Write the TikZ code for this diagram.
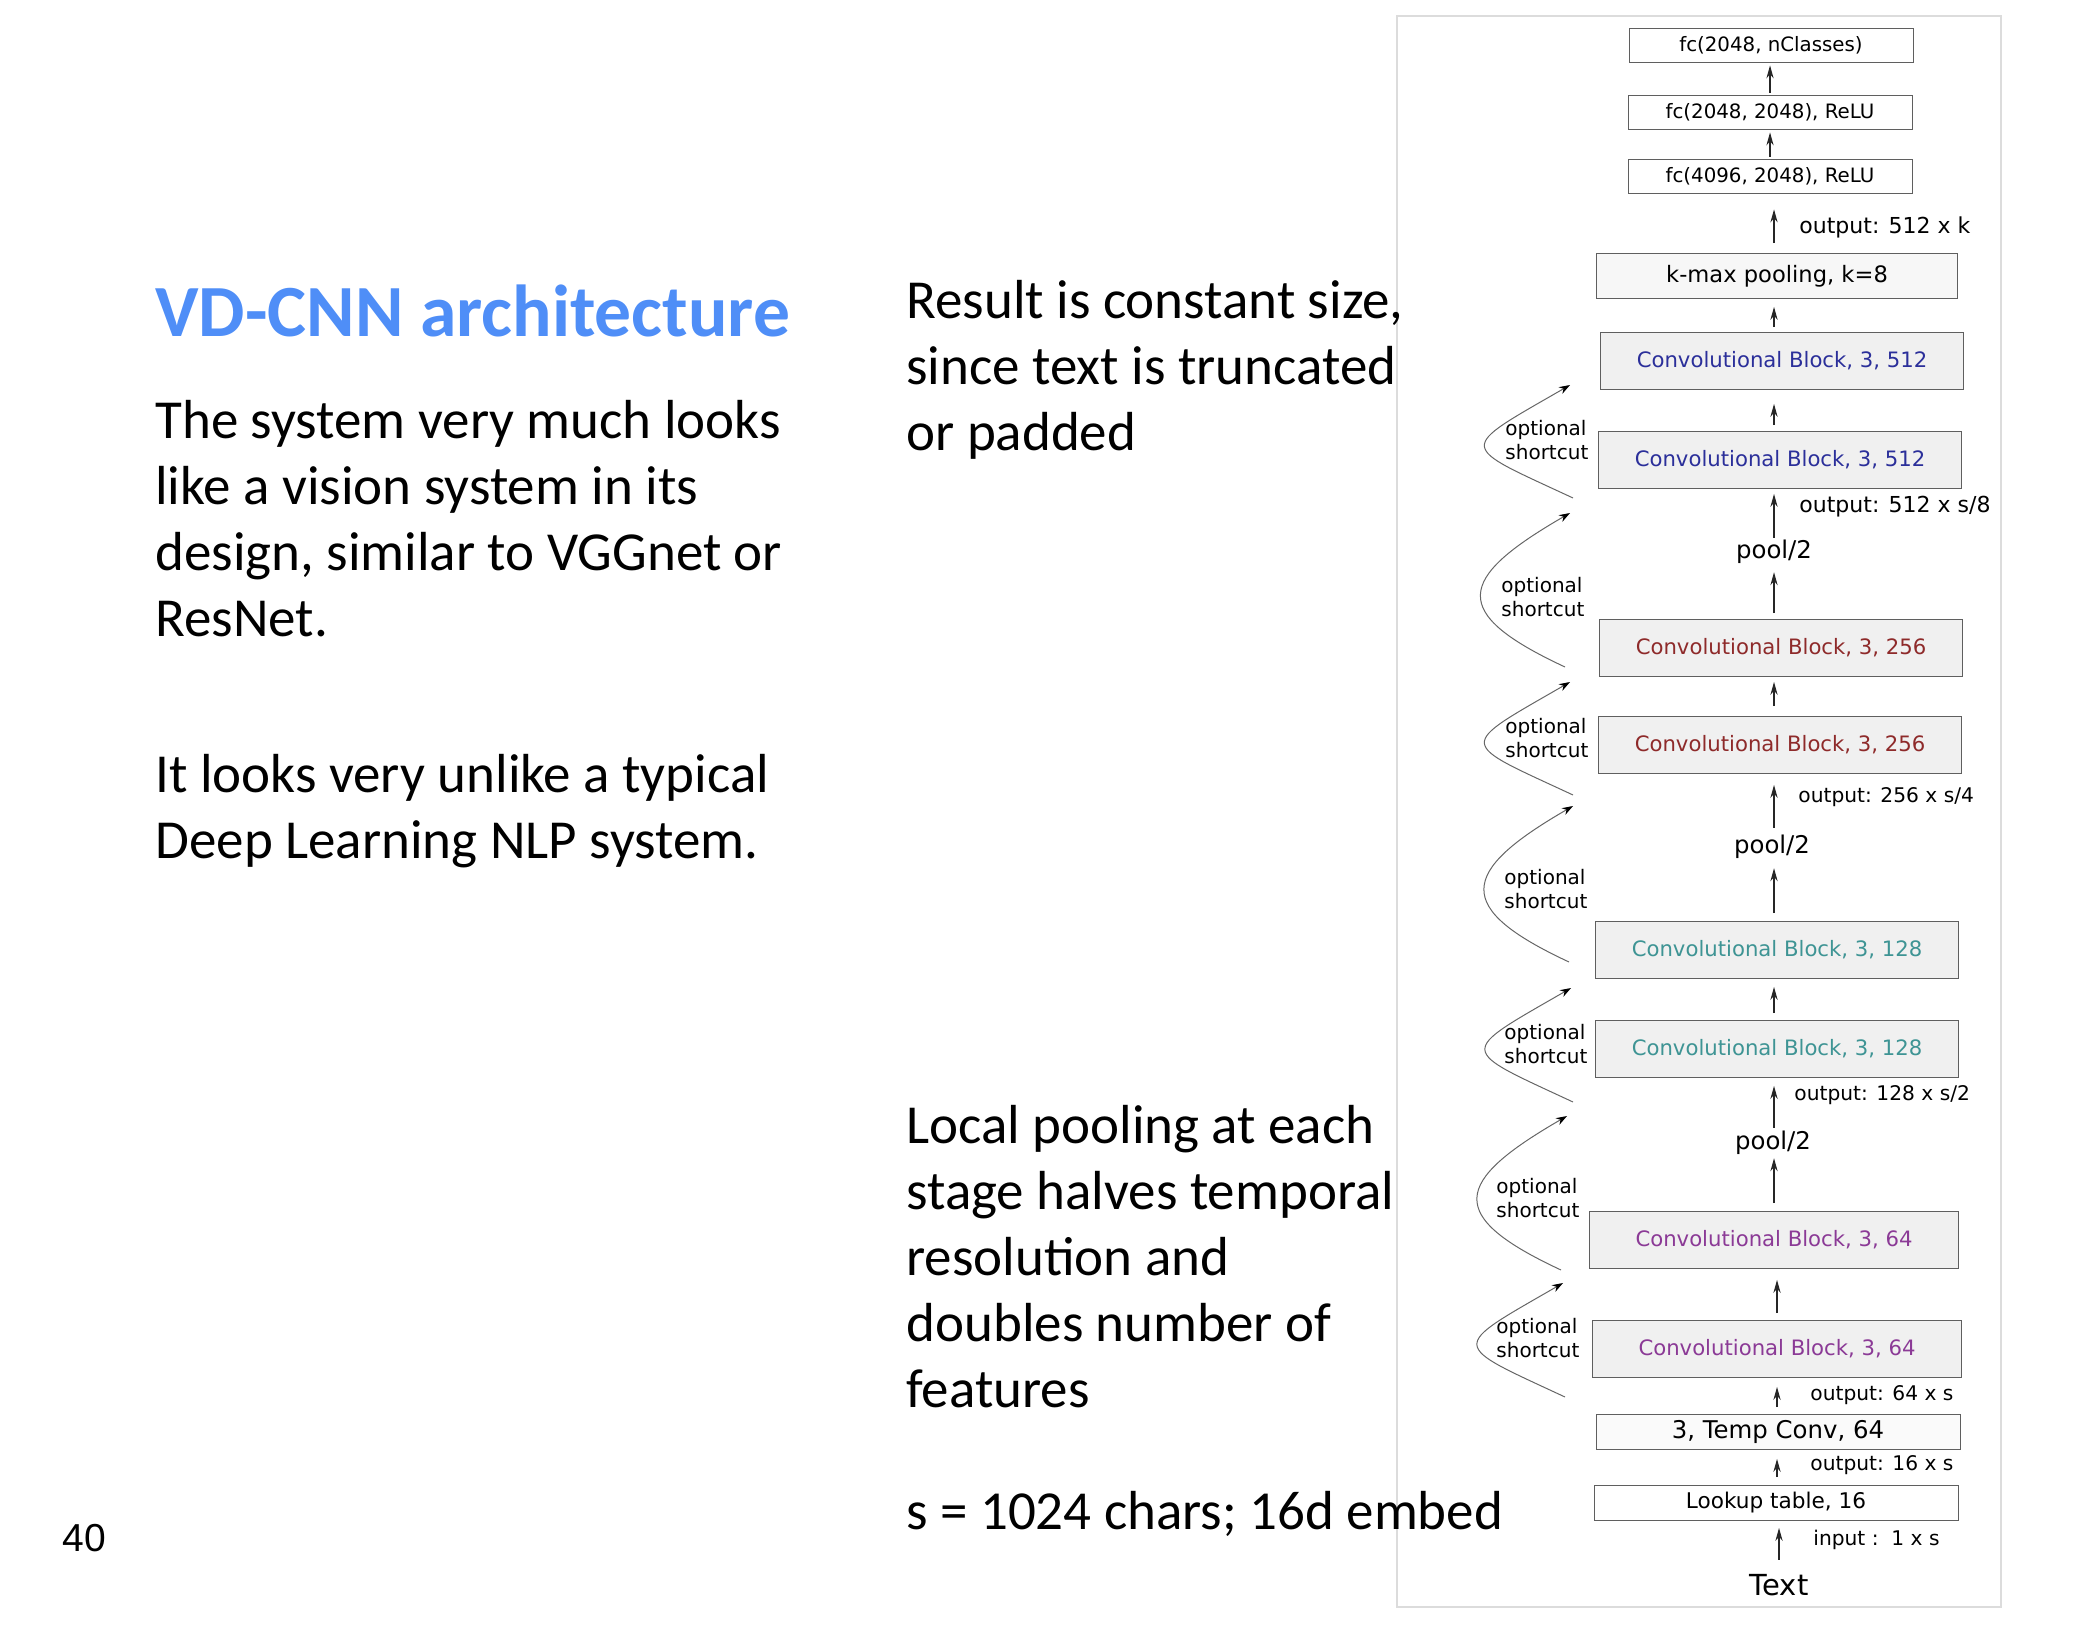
\documentclass[tikz,border=0pt]{standalone}
\usepackage{fontspec}
\setmainfont{Carlito}
\newfontfamily\dejavu{DejaVu Sans}
\newfontfamily\pagefont{Liberation Sans}
\usepackage{xcolor}
\usepackage{tikz}
\usetikzlibrary{arrows.meta,positioning}

\definecolor{titleblue}{RGB}{79,142,247}
\definecolor{c512}{RGB}{43,47,154}
\definecolor{c256}{RGB}{142,42,42}
\definecolor{c128}{RGB}{62,148,148}
\definecolor{c64}{RGB}{139,58,150}
\definecolor{boxline}{RGB}{95,95,95}
\definecolor{convfill}{RGB}{240,240,240}
\definecolor{framegray}{RGB}{220,220,220}

\begin{document}
\begin{tikzpicture}[
  x=0.5pt, y=-0.5pt,
  slide/.style={anchor=base west, inner sep=0pt, align=flush left, text width=340pt,
    font=\fontsize{27.5pt}{33pt}\selectfont},
  heading/.style={anchor=base west, inner sep=0pt, text=titleblue,
    font=\fontsize{36.8pt}{40pt}\selectfont\bfseries},
  fcbox/.style={draw=boxline, fill=white, minimum width=142pt, minimum height=17pt,
    inner sep=0pt, font=\dejavu\fontsize{9.9pt}{12pt}\selectfont},
  poolbox/.style={draw=boxline, fill=black!3, minimum width=180.5pt, minimum height=22.5pt,
    inner sep=0pt, font=\dejavu\fontsize{11.3pt}{13pt}\selectfont},
  convbox/.style={draw=boxline, fill=convfill, minimum width=181.5pt, minimum height=28.5pt,
    inner sep=0pt, font=\dejavu\fontsize{10.6pt}{12pt}\selectfont},
  inbox/.style={draw=boxline, fill=white, minimum width=182pt, minimum height=17.5pt,
    inner sep=0pt, font=\dejavu\fontsize{10.8pt}{12pt}\selectfont},
  dim/.style={anchor=west, inner sep=0pt, font=\dejavu\fontsize{10.1pt}{12pt}\selectfont},
  pooltext/.style={inner sep=0pt, font=\dejavu\fontsize{12.2pt}{14pt}\selectfont},
  skiptext/.style={anchor=west, inner sep=0pt, align=left,
    font=\dejavu\fontsize{10pt}{12pt}\selectfont},
  flow/.style={-{Stealth[length=6.5pt, width=3.6pt]}, line width=0.6pt, draw=black!85,
    shorten <=3pt, shorten >=4pt},
  shortcut/.style={-{Stealth[length=5.5pt, width=3.8pt, color=black]}, line width=0.5pt,
    draw=black!60, out=155, in=210, out distance=64pt, in distance=66pt}
]
\useasboundingbox (0,0) rectangle (2080,1632);

% frame of the network figure
\draw[framegray, line width=0.8pt] (1397,16) rectangle (2001,1607);
\coordinate (spine) at (1774,0);

% classifier on top
\node[fcbox] (fc1) at (1771,45) {fc(2048, nClasses)};
\node[fcbox] (fc2) at (1770,112) {fc(2048, 2048), ReLU};
\node[fcbox] (fc3) at (1770,176) {fc(4096, 2048), ReLU};
\node[poolbox] (kmax) at (1777,276) {k-max pooling, k=8};

% convolutional blocks
\node[convbox, text=c512] (cb512a) at (1782,361) {Convolutional Block, 3, 512};
\node[convbox, text=c512] (cb512b) at (1780,460) {Convolutional Block, 3, 512};
\node[pooltext] (pool1) at (1774,552) {pool/2};
\node[convbox, text=c256] (cb256a) at (1781,648) {Convolutional Block, 3, 256};
\node[convbox, text=c256] (cb256b) at (1780,745) {Convolutional Block, 3, 256};
\node[pooltext] (pool2) at (1772,847) {pool/2};
\node[convbox, text=c128] (cb128a) at (1777,950) {Convolutional Block, 3, 128};
\node[convbox, text=c128] (cb128b) at (1777,1049) {Convolutional Block, 3, 128};
\node[pooltext] (pool3) at (1773,1143) {pool/2};
\node[convbox, text=c64, minimum width=184.5pt] (cb64a) at (1774,1240) {Convolutional Block, 3, 64};
\node[convbox, text=c64, minimum width=184.5pt] (cb64b) at (1777,1349) {Convolutional Block, 3, 64};

% input side
\node[inbox, fill=black!2, font=\dejavu\fontsize{12.2pt}{13pt}\selectfont] (temp) at (1778,1432) {3, Temp Conv, 64};
\node[inbox] (lookup) at (1776,1503) {Lookup table, 16};
\node[inner sep=0pt, font=\dejavu\fontsize{14.5pt}{16pt}\selectfont] (txt) at (1779,1585) {Text};

% sizes next to the arrows
\node[dim, font=\dejavu\fontsize{11pt}{13pt}\selectfont] (out1) at (1799,227) {output: 512 x k};
\node[dim, font=\dejavu\fontsize{11pt}{13pt}\selectfont] (out2) at (1799,507) {output: 512 x s/8};
\node[dim] (out3) at (1798,797) {output: 256 x s/4};
\node[dim] (out4) at (1794,1095) {output: 128 x s/2};
\node[dim] (out5) at (1810,1395) {output: 64 x s};
\node[dim] (out6) at (1810,1465) {output: 16 x s};
\node[dim] (inp) at (1813,1540) {input :\ \ 1 x s};

\draw[flow, shorten <=1pt, shorten >=1.5pt] (fc2.north) -- (fc2.north |- fc1.south);
\draw[flow, shorten <=1pt, shorten >=1.5pt] (fc3.north) -- (fc3.north |- fc2.south);
\draw[flow, shorten <=5pt, shorten >=8pt] (spine |- kmax.north) -- (spine |- fc3.south);
\draw[flow, shorten <=2.5pt, shorten >=4pt] (spine |- cb512a.north) -- (spine |- kmax.south);
\draw[flow, shorten <=3pt, shorten >=7pt] (spine |- cb512b.north) -- (spine |- cb512a.south);
\draw[flow] (spine |- cb256a.north) -- (spine |- pool1.south);
\draw[flow, shorten <=1pt, shorten >=2.5pt] (spine |- pool1.north) -- (spine |- cb512b.south);
\draw[flow, shorten <=5pt, shorten >=2.5pt] (spine |- cb256b.north) -- (spine |- cb256a.south);
\draw[flow, shorten <=4pt, shorten >=4.5pt] (spine |- cb128a.north) -- (spine |- pool2.south);
\draw[flow, shorten <=3.5pt, shorten >=5.5pt] (spine |- pool2.north) -- (spine |- cb256b.south);
\draw[flow, shorten <=3.5pt] (spine |- cb128b.north) -- (spine |- cb128a.south);
\draw[flow, shorten <=4pt, shorten >=1.5pt] (spine |- cb64a.north) -- (spine |- pool3.south);
\draw[flow, shorten <=1.5pt] (spine |- pool3.north) -- (spine |- cb128b.south);
\draw[flow, shorten <=3.5pt, shorten >=5.5pt] (cb64b.north) -- (cb64b.north |- cb64a.south);
\draw[flow, shorten <=3.5pt, shorten >=4.5pt] (cb64b.north |- temp.north) -- (cb64b.north |- cb64b.south);
\draw[flow, shorten <=4pt, shorten >=4.5pt] (cb64b.north |- lookup.north) -- (cb64b.north |- temp.south);
\draw[flow, shorten <=7pt, shorten >=3.5pt] (txt.north) -- (txt.north |- lookup.south);

% optional shortcuts
\coordinate (sk1a) at (1573,498);  \coordinate (sk1b) at (1570,385);
\coordinate (sk2a) at (1565,667);  \coordinate (sk2b) at (1570,513);
\coordinate (sk3a) at (1573,795);  \coordinate (sk3b) at (1570,682);
\coordinate (sk4a) at (1569,962);  \coordinate (sk4b) at (1573,806);
\coordinate (sk5a) at (1573,1102); \coordinate (sk5b) at (1571,988);
\coordinate (sk6a) at (1561,1270); \coordinate (sk6b) at (1567,1116);
\coordinate (sk7a) at (1565,1397); \coordinate (sk7b) at (1563,1283);
\draw[shortcut] (sk1a) to (sk1b);
\draw[shortcut] (sk2a) to (sk2b);
\draw[shortcut] (sk3a) to (sk3b);
\draw[shortcut] (sk4a) to (sk4b);
\draw[shortcut] (sk5a) to (sk5b);
\draw[shortcut] (sk6a) to (sk6b);
\draw[shortcut] (sk7a) to (sk7b);
\node[skiptext] (opt1) at (1505,440) {optional\\shortcut};
\node[skiptext] (opt2) at (1501,597) {optional\\shortcut};
\node[skiptext] (opt3) at (1505,738) {optional\\shortcut};
\node[skiptext] (opt4) at (1504,889) {optional\\shortcut};
\node[skiptext] (opt5) at (1504,1044) {optional\\shortcut};
\node[skiptext] (opt6) at (1496,1198) {optional\\shortcut};
\node[skiptext] (opt7) at (1496,1338) {optional\\shortcut};

% slide text
\node[heading] (title) at (155,336) {VD-CNN architecture};
\node[slide] (intro) at (155,438) {The system very much looks\\like a vision system in its\\design, similar to VGGnet or\\ResNet.};
\node[slide] (unlike) at (155,792) {It looks very unlike a typical\\Deep Learning NLP system.};
\node[slide] (result) at (906,318) {Result is constant size,\\since text is truncated\\or padded};
\node[slide] (local) at (906,1143) {Local pooling at each\\stage halves temporal\\resolution and\\doubles number of\\features};
\node[slide] (chars) at (906,1529) {s = 1024 chars; 16d embed};
\node[anchor=base west, inner sep=0pt, font=\pagefont\fontsize{19.5pt}{22pt}\selectfont] (page) at (62,1551) {40};
\end{tikzpicture}
\end{document}
